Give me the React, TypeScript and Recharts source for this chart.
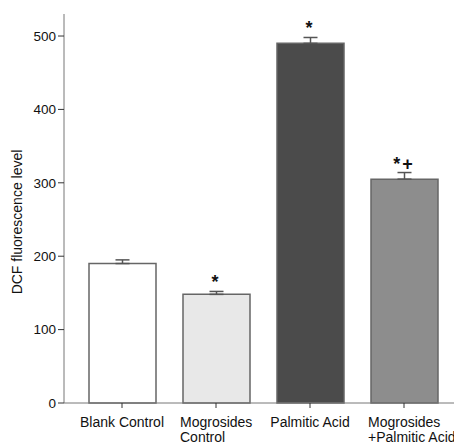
import React from 'react';
import { ComposedChart, Bar, Line, XAxis, YAxis, ErrorBar, LabelList, Cell } from 'recharts';

const groups = ['Blank Control', 'Mogrosides\nControl', 'Palmitic Acid', 'Mogrosides\n+Palmitic Acid'];
const dcfLevel = [190, 148, 490, 305];
const sem = [5, 4, 8, 9];
const marks = ['', '*', '*', '*+'];
const barColors = ['#ffffff', '#e8e8e8', '#4b4b4b', '#8d8d8d'];
const yTicks = [0, 100, 200, 300, 400, 500];

const data = groups.map((g, i) => ({
  group: g,
  value: dcfLevel[i],
  err: [0, sem[i]],
  top: dcfLevel[i] + sem[i],
  mark: marks[i],
}));

const font = 'Arial, "Liberation Sans", sans-serif';

// two-line labels: first line centred on the tick, second line left-aligned to it
function GroupTick(props: any) {
  const { x, y, payload } = props;
  const lines = String(payload.value).split('\n');
  if (lines.length === 1) {
    return (
      <text x={x} y={y + 17} textAnchor="middle" fontSize={14} fill="#111" fontFamily={font}>
        {lines[0]}
      </text>
    );
  }
  const start = x - lines[0].length * 3.6;
  return (
    <text x={start} y={y + 17} textAnchor="start" fontSize={14} fill="#111" fontFamily={font}>
      {lines.map((l, i) => (
        <tspan key={i} x={start} dy={i === 0 ? 0 : 15}>{l}</tspan>
      ))}
    </text>
  );
}

function MarkLabel(props: any) {
  const { x, y, value } = props;
  if (!value) return null;
  return (
    <text x={x} y={y - 3} textAnchor="middle" fontSize={18} fontWeight="bold" fill="#111" fontFamily={font} letterSpacing={2}>
      {value}
    </text>
  );
}

function AxisTitle() {
  return (
    <text
      x={16.5}
      y={222}
      transform="rotate(-90 16.5 222)"
      textAnchor="middle"
      dominantBaseline="central"
      fontSize={14}
      fill="#111"
      fontFamily={font}
    >
      DCF fluorescence level
    </text>
  );
}

export default function App() {
  return (
    <div style={{ position: 'absolute', left: 0, top: 0, background: '#fff' }}>
      <ComposedChart width={454} height={444} data={data} margin={{ top: 14, right: 0, bottom: 1, left: 0 }}>
        <XAxis
          dataKey="group"
          height={40}
          padding={{ left: 11, right: 3 }}
          stroke="#777"
          tickLine={{ stroke: '#333' }}
          tickSize={5}
          interval={0}
          tick={<GroupTick />}
        />
        <YAxis
          width={64}
          domain={[0, 530]}
          ticks={yTicks}
          stroke="#777"
          tickLine={{ stroke: '#333' }}
          tickSize={6}
          tick={{ fontSize: 13.5, fill: '#111', fontFamily: font }}
          label={<AxisTitle />}
        />
        <Bar dataKey="value" barSize={67} stroke="#666" strokeWidth={1.5} isAnimationActive={false}>
          {data.map((d, i) => (
            <Cell key={d.group} fill={barColors[i]} />
          ))}
          <ErrorBar dataKey="err" width={7} stroke="#555" strokeWidth={1.5} direction="y" />
        </Bar>
        <Line dataKey="top" stroke="none" dot={false} activeDot={false} isAnimationActive={false}>
          <LabelList dataKey="mark" content={<MarkLabel />} />
        </Line>
      </ComposedChart>
    </div>
  );
}
